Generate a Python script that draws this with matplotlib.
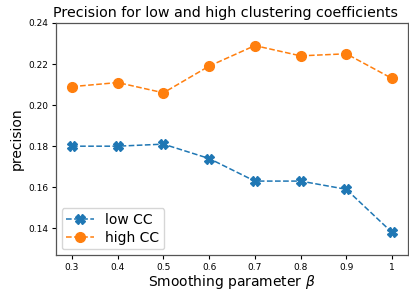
import matplotlib
matplotlib.use("Agg")
import matplotlib.pyplot as plt

beta = [0.3, 0.4, 0.5, 0.6, 0.7, 0.8, 0.9, 1.0]
beta_labels = ["0.3", "0.4", "0.5", "0.6", "0.7", "0.8", "0.9", "1"]
low_cc = [0.180, 0.180, 0.181, 0.174, 0.163, 0.163, 0.159, 0.138]
high_cc = [0.209, 0.211, 0.206, 0.219, 0.229, 0.224, 0.225, 0.213]
yticks = [0.14, 0.16, 0.18, 0.20, 0.22, 0.24]

fig = plt.figure(figsize=(4.09, 2.90), dpi=100)
ax = fig.add_axes([56/409, 1-255/290, (408-56)/409, (255-23)/290])

ax.plot(beta, low_cc, linestyle="--", marker="X", markersize=7, linewidth=1.1,
        color="#1f77b4", label="low CC")
ax.plot(beta, high_cc, linestyle="--", marker="o", markersize=7, linewidth=1.1,
        color="#ff7f0e", label="high CC")

ax.set_xlim(0.265, 1.035)
ax.set_ylim(0.127, 0.24)
ax.set_xticks(beta)
ax.set_xticklabels(beta_labels)
ax.set_yticks(yticks)
ax.set_yticklabels([f"{v:.2f}" for v in yticks])
ax.tick_params(labelsize=6.5, length=3, width=0.8, pad=2.5)
for s in ax.spines.values():
    s.set_color("#555555")
    s.set_linewidth(0.9)

ax.set_xlabel(r"Smoothing parameter $\beta$", fontsize=10, labelpad=1)
ax.set_ylabel("precision", fontsize=10, labelpad=3)
fig.text(53/409, 1-17/290, "Precision for low and high clustering coefficients",
         fontsize=10.3, ha="left", va="baseline")
ax.legend(loc="lower left", fontsize=10, handlelength=2.0, borderpad=0.35,
          labelspacing=0.25, borderaxespad=0.4)

fig.savefig("out.png", dpi=100)
